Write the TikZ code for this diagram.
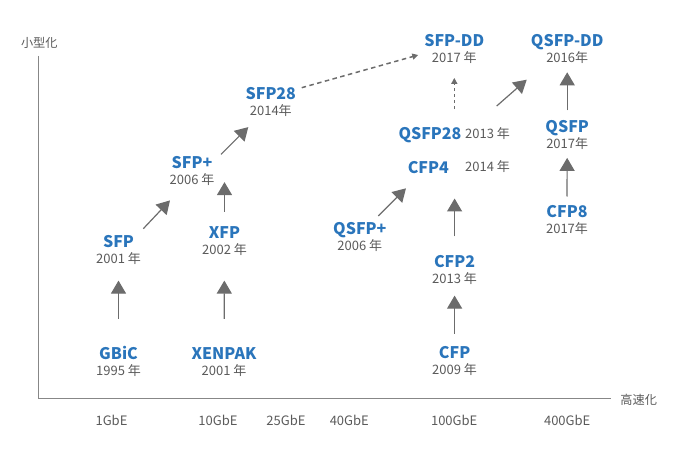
\documentclass[tikz,border=0pt]{standalone}
\usepackage{fontspec}
\setmainfont{Noto Sans}
\newfontfamily\jpfont{Noto Sans CJK JP}
\usepackage{tikz}
\usetikzlibrary{arrows.meta,positioning}
\definecolor{modblue}{RGB}{42,117,187}
\definecolor{yeargray}{RGB}{90,90,90}
\definecolor{arrgray}{RGB}{108,108,108}
\definecolor{axisgray}{RGB}{135,135,135}

\begin{document}
\begin{tikzpicture}[
    x=1pt, y=1pt,
    modname/.style={font=\jpfont\bfseries\fontsize{16}{16}\selectfont, text=modblue,
                    inner sep=0pt, text height=11.5pt, text depth=0pt},
    year/.style={font=\jpfont\fontsize{13}{13}\selectfont, text=yeargray,
                 inner sep=0pt, text height=9.5pt, text depth=0pt},
    speed/.style={font=\jpfont\fontsize{13}{13}\selectfont, text=yeargray},
    axlabel/.style={font=\jpfont\fontsize{12.2}{12.2}\selectfont, text=yeargray},
    arrow/.style={-{Triangle[width=15pt,length=13pt]}, line width=1.2pt, draw=arrgray},
    dasharrow/.style={-{Triangle[width=6pt,length=6pt]}, line width=1.5pt,
                      draw=arrgray, dash pattern=on 4.5pt off 3.5pt},
    dotarrow/.style={-{Triangle[width=6pt,length=6pt]}, line width=1.5pt,
                     draw=arrgray, dash pattern=on 3pt off 3pt},
    node distance=6pt
]
\useasboundingbox (0,0) rectangle (680,453);

% axes
\coordinate (origin) at (38,55);
\coordinate (ytop) at (38,397);
\coordinate (xend) at (611,55);
\draw[axisgray, line width=1pt] (ytop) -- (origin) -- (xend);
\node[axlabel] (small) at (39.3,410) {小型化};
\node[axlabel] (fast) at (638.7,53) {高速化};

\node[speed] (s1) at (111.5,33) {1GbE};
\node[speed] (s10) at (218,33) {10GbE};
\node[speed] (s25) at (286,33) {25GbE};
\node[speed] (s40) at (349.3,33) {40GbE};
\node[speed] (s100) at (454.2,33) {100GbE};
\node[speed] (s400) at (567.2,33) {400GbE};

% modules
\node[modname] (gbic) at (118.5,99) {GBiC};
\node[year, below=of gbic] (gbicy) {1995 年};
\node[modname] (xenpak) at (224,99) {XENPAK};
\node[year, below=of xenpak] (xenpaky) {2001 年};
\node[modname] (sfp) at (118.5,211) {SFP};
\node[year, below=of sfp] (sfpy) {2001 年};
\node[modname] (xfp) at (224.5,220.5) {XFP};
\node[year, below=of xfp] (xfpy) {2002 年};
\node[modname] (sfpp) at (192,290.2) {SFP+};
\node[year, below=of sfpp] (sfppy) {2006 年};
\node[modname] (sfp28) at (270.8,359.2) {SFP28};
\node[year, below=of sfp28] (sfp28y) {2014年};
\node[modname] (sfpdd) at (454.3,411.8) {SFP-DD};
\node[year, below=of sfpdd] (sfpddy) {2017 年};
\node[modname] (qsfpdd) at (567.2,412) {QSFP-DD};
\node[year, below=of qsfpdd] (qsfpddy) {2016年};
\node[modname] (q28) at (430,319.7) {QSFP28};
\node[year, anchor=west] (q28y) at (465,319.5) {2013 年};
\node[modname] (cfp4) at (428.3,285.5) {CFP4};
\node[year, anchor=west] (cfp4y) at (465,286) {2014 年};
\node[modname] (qsfpp) at (359.8,223.8) {QSFP+};
\node[year, below=of qsfpp] (qsfppy) {2006 年};
\node[modname] (cfp2) at (454.6,191.3) {CFP2};
\node[year, below=of cfp2] (cfp2y) {2013 年};
\node[modname] (cfp) at (454.6,100) {CFP};
\node[year, below=of cfp] (cfpy) {2009 年};
\node[modname] (qsfp) at (567.2,326.3) {QSFP};
\node[year, below=of qsfp] (qsfpy) {2017年};
\node[modname] (cfp8) at (567,241.3) {CFP8};
\node[year, below=of cfp8] (cfp8y) {2017年};

% evolution arrows
\draw[arrow, shorten <=29.25pt, shorten >=16.75pt] (gbic.north) -- (sfpy.south);
\draw[arrow, shorten <=29.25pt, shorten >=26.25pt] (xenpak.north) -- (xfpy.south);
\draw[arrow, shorten <=14.75pt, shorten >=2.4pt] (xfp.north) -- (xfp.north |- sfppy.center);
\draw[arrow] ([shift={(24.8,30.2)}]sfpy.center) -- ([shift={(-22,-20.7)}]sfppy.center);
\draw[arrow] ([shift={(29,25.3)}]sfppy.center) -- ([shift={(-22.5,-16.4)}]sfp28y.center);
\draw[dasharrow] ([shift={(30.9,6.1)}]sfp28.center) -- ([shift={(-36,-13.8)}]sfpdd.center);
\draw[dotarrow, shorten <=18.25pt, shorten >=14.85pt] (sfpddy.south |- q28.north) -- (sfpddy.south);
\draw[arrow] ([shift={(31.7,27.5)}]q28y.west) -- ([shift={(-40.5,-21.8)}]qsfpddy.center);
\draw[arrow] ([shift={(18.5,13.2)}]qsfpp.center) -- ([shift={(-22.3,-20.8)}]cfp4.center);
\draw[arrow, shorten <=13.25pt, shorten >=12.05pt] (cfp.north) -- (cfp2y.south);
\draw[arrow, shorten <=19.25pt, shorten >=25.05pt] (cfp2.north) -- (cfp2.north |- cfp4.south);
\draw[arrow, shorten <=9.25pt, shorten >=9.35pt] (cfp8.north) -- (qsfpy.south);
\draw[arrow, shorten <=10.25pt, shorten >=9.45pt] (qsfp.north) -- (qsfpddy.south);
\end{tikzpicture}
\end{document}
